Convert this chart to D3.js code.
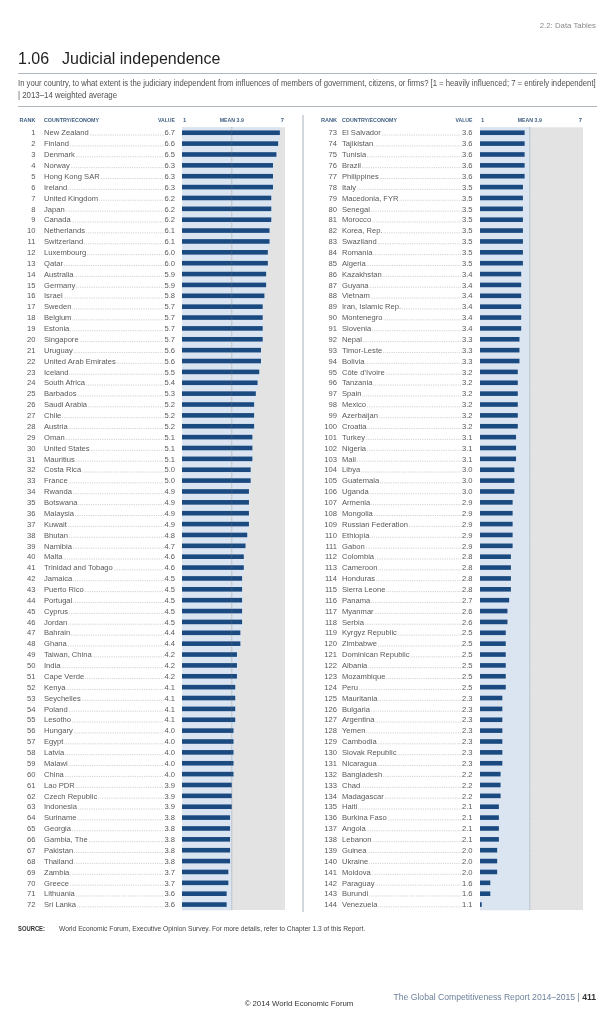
<!DOCTYPE html>
<html>
<head>
<meta charset="utf-8">
<script src="https://cdn.jsdelivr.net/npm/d3@7"></script>
<style>
  body { margin: 0; background: #fff; }
  svg { will-change: transform; }
  text { font-family: "Liberation Sans", Arial, sans-serif; }
</style>
</head>
<body>
<div id="chart_div"></div>
<script>
var countries = [
    'New Zealand', 'Finland', 'Denmark', 'Norway', 'Hong Kong SAR', 'Ireland', 'United Kingdom', 'Japan',
    'Canada', 'Netherlands', 'Switzerland', 'Luxembourg', 'Qatar', 'Australia', 'Germany', 'Israel',
    'Sweden', 'Belgium', 'Estonia', 'Singapore', 'Uruguay', 'United Arab Emirates', 'Iceland', 'South Africa',
    'Barbados', 'Saudi Arabia', 'Chile', 'Austria', 'Oman', 'United States', 'Mauritius', 'Costa Rica',
    'France', 'Rwanda', 'Botswana', 'Malaysia', 'Kuwait', 'Bhutan', 'Namibia', 'Malta',
    'Trinidad and Tobago', 'Jamaica', 'Puerto Rico', 'Portugal', 'Cyprus', 'Jordan', 'Bahrain', 'Ghana',
    'Taiwan, China', 'India', 'Cape Verde', 'Kenya', 'Seychelles', 'Poland', 'Lesotho', 'Hungary',
    'Egypt', 'Latvia', 'Malawi', 'China', 'Lao PDR', 'Czech Republic', 'Indonesia', 'Suriname',
    'Georgia', 'Gambia, The', 'Pakistan', 'Thailand', 'Zambia', 'Greece', 'Lithuania', 'Sri Lanka',
    'El Salvador', 'Tajikistan', 'Tunisia', 'Brazil', 'Philippines', 'Italy', 'Macedonia, FYR', 'Senegal',
    'Morocco', 'Korea, Rep.', 'Swaziland', 'Romania', 'Algeria', 'Kazakhstan', 'Guyana', 'Vietnam',
    'Iran, Islamic Rep.', 'Montenegro', 'Slovenia', 'Nepal', 'Timor-Leste', 'Bolivia', 'Côte d\u2019Ivoire', 'Tanzania',
    'Spain', 'Mexico', 'Azerbaijan', 'Croatia', 'Turkey', 'Nigeria', 'Mali', 'Libya',
    'Guatemala', 'Uganda', 'Armenia', 'Mongolia', 'Russian Federation', 'Ethiopia', 'Gabon', 'Colombia',
    'Cameroon', 'Honduras', 'Sierra Leone', 'Panama', 'Myanmar', 'Serbia', 'Kyrgyz Republic', 'Zimbabwe',
    'Dominican Republic', 'Albania', 'Mozambique', 'Peru', 'Mauritania', 'Bulgaria', 'Argentina', 'Yemen',
    'Cambodia', 'Slovak Republic', 'Nicaragua', 'Bangladesh', 'Chad', 'Madagascar', 'Haiti', 'Burkina Faso',
    'Angola', 'Lebanon', 'Guinea', 'Ukraine', 'Moldova', 'Paraguay', 'Burundi', 'Venezuela'
];

var values = [
    6.7, 6.6, 6.5, 6.3, 6.3, 6.3, 6.2, 6.2, 6.2, 6.1, 6.1, 6.0, 6.0, 5.9, 5.9, 5.8,
    5.7, 5.7, 5.7, 5.7, 5.6, 5.6, 5.5, 5.4, 5.3, 5.2, 5.2, 5.2, 5.1, 5.1, 5.1, 5.0,
    5.0, 4.9, 4.9, 4.9, 4.9, 4.8, 4.7, 4.6, 4.6, 4.5, 4.5, 4.5, 4.5, 4.5, 4.4, 4.4,
    4.2, 4.2, 4.2, 4.1, 4.1, 4.1, 4.1, 4.0, 4.0, 4.0, 4.0, 4.0, 3.9, 3.9, 3.9, 3.8,
    3.8, 3.8, 3.8, 3.8, 3.7, 3.7, 3.6, 3.6,
    3.6, 3.6, 3.6, 3.6, 3.6, 3.5, 3.5, 3.5, 3.5, 3.5, 3.5, 3.5, 3.5, 3.4, 3.4, 3.4,
    3.4, 3.4, 3.4, 3.3, 3.3, 3.3, 3.2, 3.2, 3.2, 3.2, 3.2, 3.2, 3.1, 3.1, 3.1, 3.0,
    3.0, 3.0, 2.9, 2.9, 2.9, 2.9, 2.9, 2.8, 2.8, 2.8, 2.8, 2.7, 2.6, 2.6, 2.5, 2.5,
    2.5, 2.5, 2.5, 2.5, 2.3, 2.3, 2.3, 2.3, 2.3, 2.3, 2.3, 2.2, 2.2, 2.2, 2.1, 2.1,
    2.1, 2.1, 2.0, 2.0, 2.0, 1.6, 1.6, 1.1
];

var mean_value = 3.9;
var scale_domain = [1, 7];
var header_labels = ['RANK', 'COUNTRY/ECONOMY', 'VALUE'];
var tick_labels = ['1', 'MEAN 3.9', '7'];

var width = 613;
var height = 1024;
var rows_per_column = 72;

var bar_color = '#1b4a80';
var band_color = '#dbe5f1';
var panel_color = '#e3e3e3';
var text_color = '#595959';
var head_color = '#3f5f82';

// one entry per column: rank right edge, name start, value right edge, bar start
var columns = [
    { rank_x: 35.5, name_x: 44, value_x: 175, bar_x: 182 },
    { rank_x: 337, name_x: 342, value_x: 472.5, bar_x: 480 }
];
var bar_width = 103;
var rows_top = 127.3;
var rows_bottom = 910;

var rows = countries.map(function(c, i) {
    return { rank: i + 1, country: c, value: values[i], col: Math.floor(i / rows_per_column), row: i % rows_per_column };
});

var svg = d3.select('#chart_div')
    .append('svg')
    .attr('width', width)
    .attr('height', height);

// squeeze a long line horizontally so it spans the given width (condensed look)
function fit_text(x, y, target, size, color, str, weight) {
    var g = svg.append('g').attr('transform', `translate(${x}, ${y})`);
    var t = g.append('text')
        .style('font-size', size + 'px')
        .style('font-weight', weight || 400)
        .style('fill', color)
        .text(str);
    var natural = t.node().getComputedTextLength();
    t.attr('transform', `scale(${target / natural}, 1)`);
    return t;
}

// page header
svg.append('text')
    .attr('x', 596).attr('y', 28)
    .attr('text-anchor', 'end')
    .style('font-size', '7.8px')
    .style('fill', '#8a8a8a')
    .text('2.2: Data Tables');

svg.append('text')
    .attr('x', 18).attr('y', 64)
    .style('font-size', '16px')
    .style('fill', '#222')
    .text('1.06');
svg.append('text')
    .attr('x', 62).attr('y', 64)
    .style('font-size', '16px')
    .style('fill', '#222')
    .text('Judicial independence');

svg.append('line')
    .attr('x1', 18).attr('x2', 597).attr('y1', 73.5).attr('y2', 73.5)
    .style('stroke', '#9aa3ad').style('stroke-width', 0.8);

fit_text(18, 85.5, 577, 8.4, '#505050',
    'In your country, to what extent is the judiciary independent from influences of members of government, citizens, or firms? [1 = heavily influenced; 7 = entirely independent]');
fit_text(18, 98, 99, 8.4, '#505050', '| 2013\u201314 weighted average');

svg.append('line')
    .attr('x1', 18).attr('x2', 597).attr('y1', 106.5).attr('y2', 106.5)
    .style('stroke', '#9aa3ad').style('stroke-width', 0.8);

// column separator
svg.append('line')
    .attr('x1', 303).attr('x2', 303).attr('y1', 115).attr('y2', 912)
    .style('stroke', '#8f9cad').style('stroke-width', 0.8);

var y = d3.scaleBand()
    .domain(d3.range(rows_per_column))
    .range([rows_top, rows_bottom]);
var bar_height = 4.6;

columns.forEach(function(col, ci) {
    var x = d3.scaleLinear().domain(scale_domain).range([col.bar_x, col.bar_x + bar_width]);
    var data = rows.filter(function(d) { return d.col === ci; });
    var g = svg.append('g').attr('id', 'column_' + ci);

    // column headers
    var head = g.append('g')
        .style('font-size', '5.8px')
        .style('font-weight', 700)
        .style('fill', head_color);
    head.append('text').attr('x', col.rank_x).attr('y', 121.5).attr('text-anchor', 'end')
        .attr('textLength', 16).attr('lengthAdjust', 'spacingAndGlyphs').text(header_labels[0]);
    head.append('text').attr('x', col.name_x).attr('y', 121.5)
        .attr('textLength', 55).attr('lengthAdjust', 'spacingAndGlyphs').text(header_labels[1]);
    head.append('text').attr('x', col.value_x).attr('y', 121.5).attr('text-anchor', 'end')
        .attr('textLength', 17).attr('lengthAdjust', 'spacingAndGlyphs').text(header_labels[2]);
    head.append('text').attr('x', x(1) + 1).attr('y', 121.5).attr('text-anchor', 'start').text(tick_labels[0]);
    head.append('text').attr('x', x(mean_value)).attr('y', 121.5).attr('text-anchor', 'middle')
        .attr('textLength', 24).attr('lengthAdjust', 'spacingAndGlyphs').text(tick_labels[1]);
    head.append('text').attr('x', x(7) - 1).attr('y', 121.5).attr('text-anchor', 'end').text(tick_labels[2]);

    // panel background
    g.append('rect')
        .attr('x', x(1)).attr('y', rows_top)
        .attr('width', x(7) - x(1)).attr('height', rows_bottom - rows_top)
        .style('fill', panel_color);

    g.selectAll('rect.band')
        .data(data)
        .enter()
        .append('rect')
        .attr('class', 'band')
        .attr('x', x(1))
        .attr('y', function(d) { return y(d.row); })
        .attr('width', function(d) { return x(Math.max(d.value, mean_value)) - x(1) + 0.5; })
        .attr('height', y.bandwidth() + 0.3)
        .style('fill', band_color);

    g.selectAll('rect.bar')
        .data(data)
        .enter()
        .append('rect')
        .attr('class', 'bar')
        .attr('x', x(1))
        .attr('y', function(d) { return y(d.row) + (y.bandwidth() - bar_height) / 2; })
        .attr('width', function(d) { return x(d.value) - x(1); })
        .attr('height', bar_height)
        .style('fill', bar_color);

    g.append('line')
        .attr('x1', x(mean_value)).attr('x2', x(mean_value))
        .attr('y1', rows_top).attr('y2', rows_bottom)
        .style('stroke', '#777')
        .style('stroke-width', 0.6)
        .style('stroke-dasharray', '1,1');

    // row labels
    var label = g.selectAll('g.row')
        .data(data)
        .enter()
        .append('g')
        .attr('class', 'row')
        .attr('transform', function(d) { return `translate(0, ${y(d.row) + y.bandwidth() / 2 + 2.7})`; })
        .style('font-size', '7.6px')
        .style('fill', text_color);

    label.append('text')
        .attr('x', col.rank_x)
        .attr('text-anchor', 'end')
        .text(function(d) { return d.rank; });

    label.append('text')
        .attr('class', 'name')
        .attr('x', col.name_x)
        .text(function(d) { return d.country; });

    label.append('text')
        .attr('class', 'value')
        .attr('x', col.value_x)
        .attr('text-anchor', 'end')
        .text(function(d) { return d.value.toFixed(1); });

    // dot leaders between name and value
    label.each(function(d) {
        var row_g = d3.select(this);
        var name_end = col.name_x + row_g.select('text.name').node().getComputedTextLength() + 1.2;
        var value_start = col.value_x - row_g.select('text.value').node().getComputedTextLength() - 0.3;
        row_g.append('line')
            .attr('x1', name_end).attr('x2', value_start)
            .attr('y1', -0.4).attr('y2', -0.4)
            .style('stroke', '#888')
            .style('stroke-width', 0.6)
            .style('stroke-dasharray', '0.6,1.2');
    });
});

// footer
fit_text(18, 930.5, 27, 7, '#333', 'SOURCE:', 700);
fit_text(59, 930.5, 307, 7, '#444',
    'World Economic Forum, Executive Opinion Survey. For more details, refer to Chapter 1.3 of this Report.');

svg.append('text')
    .attr('x', 299).attr('y', 1006)
    .attr('text-anchor', 'middle')
    .style('font-size', '7.8px').style('fill', '#333')
    .text('\u00a9 2014 World Economic Forum');

var report = svg.append('text')
    .attr('x', 596).attr('y', 999.5)
    .attr('text-anchor', 'end')
    .style('font-size', '8.6px').style('fill', '#6d8199');
report.append('tspan').text('The Global Competitiveness Report 2014\u20132015  |  ');
report.append('tspan').style('font-weight', 700).style('fill', '#333').text('411');
</script>
</body>
</html>
